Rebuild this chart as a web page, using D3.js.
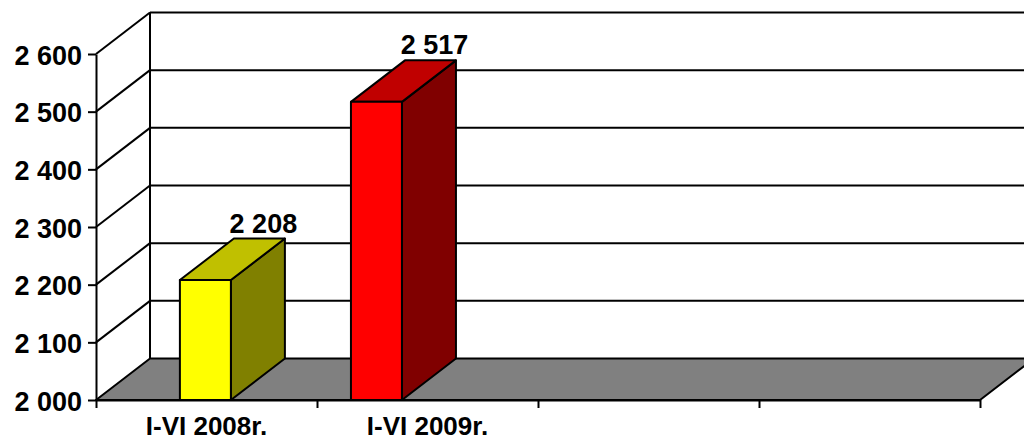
<!DOCTYPE html>
<html>
<head>
<meta charset="utf-8">
<script src="https://cdn.jsdelivr.net/npm/d3@7"></script>
<style>
  body { margin: 0; background: #fff; }
  svg { display: block; }
  text { font-family: "Liberation Sans", Arial, sans-serif; font-weight: bold; fill: #000; }
</style>
</head>
<body>
<div id="viz"></div>
<script>
const width = 1024,
    height = 441;

// data
const categories = ["I-VI 2008r.", "I-VI 2009r.", "", ""];
const barValues = [2208, 2517];
const barSlot = [0.495, 1.269];   // where each bar sits along the category axis
const barColors = [
    { front: "#ffff00", top: "#c0c000", side: "#808000" },
    { front: "#ff0000", top: "#c00000", side: "#800000" }
];
const yTicks = [2000, 2100, 2200, 2300, 2400, 2500, 2600];

const plotLeft = 96, plotRight = 980, plotBottom = 400, plotTop = 54,
    depthX = 54, depthY = -41.5,
    barWidth = 51;

const fmt = d3.formatLocale({ decimal: ",", thousands: " ", grouping: [3], currency: ["", ""] }).format(",d");

const y = d3.scaleLinear().domain([2000, 2600]).range([plotBottom, plotTop]);
const x = d3.scaleLinear().domain([0, categories.length]).range([plotLeft, plotRight]);

const svg = d3.select("#viz").append("svg")
    .attr("width", width)
    .attr("height", height);

// back wall gridlines
svg.append("g").selectAll("line")
    .data(yTicks.slice(1))
    .enter().append("line")
    .attr("x1", plotLeft + depthX)
    .attr("x2", plotRight + depthX)
    .attr("y1", d => y(d) + depthY)
    .attr("y2", d => y(d) + depthY)
    .attr("stroke", "#000")
    .attr("stroke-width", 2);

// back wall left edge
svg.append("line")
    .attr("x1", plotLeft + depthX).attr("x2", plotLeft + depthX)
    .attr("y1", y(2600) + depthY).attr("y2", y(2000) + depthY)
    .attr("stroke", "#000").attr("stroke-width", 2);

// left wall diagonals
svg.append("g").selectAll("line")
    .data(yTicks.slice(1))
    .enter().append("line")
    .attr("x1", plotLeft)
    .attr("x2", plotLeft + depthX)
    .attr("y1", d => y(d))
    .attr("y2", d => y(d) + depthY)
    .attr("stroke", "#000")
    .attr("stroke-width", 2);

// floor
const y0 = y(2000);
svg.append("polygon")
    .attr("points", [[plotLeft, y0], [plotRight, y0], [plotRight + depthX, y0 + depthY], [plotLeft + depthX, y0 + depthY]].join(" "))
    .attr("fill", "#808080")
    .attr("stroke", "#000")
    .attr("stroke-width", 2)
    .attr("stroke-linejoin", "round");

// bars
const bars = svg.append("g").selectAll("g")
    .data(barValues)
    .enter().append("g");

bars.each(function (d, i) {
    const g = d3.select(this),
        cx = x(barSlot[i]),
        x0 = cx - barWidth / 2,
        x1 = cx + barWidth / 2,
        yt = y(d),
        c = barColors[i];

    g.append("polygon")
        .attr("points", [[x1, yt], [x1 + depthX, yt + depthY], [x1 + depthX, y0 + depthY], [x1, y0]].join(" "))
        .attr("fill", c.side);
    g.append("polygon")
        .attr("points", [[x0, yt], [x1, yt], [x1 + depthX, yt + depthY], [x0 + depthX, yt + depthY]].join(" "))
        .attr("fill", c.top);
    g.append("rect")
        .attr("x", x0).attr("y", yt)
        .attr("width", barWidth).attr("height", y0 - yt)
        .attr("fill", c.front);
    g.selectAll("polygon, rect")
        .attr("stroke", "#000")
        .attr("stroke-width", 2)
        .attr("stroke-linejoin", "round");

    g.append("text")
        .attr("x", cx + depthX + 4)
        .attr("y", yt + depthY - 6)
        .attr("text-anchor", "middle")
        .style("font-size", "27px")
        .text(fmt(d));
});

// value axis
const yAxis = d3.axisLeft(y)
    .tickValues(yTicks)
    .tickFormat(fmt)
    .tickSize(8)
    .tickSizeOuter(0)
    .tickPadding(6);

svg.append("g")
    .attr("transform", "translate(" + plotLeft + ",0)")
    .call(yAxis)
    .call(g => g.selectAll("path, line").attr("stroke", "#000").attr("stroke-width", 2))
    .call(g => g.selectAll("text")
        .attr("font-family", null)
        .attr("font-size", null)
        .style("font-size", "27px")
        .attr("dy", "0.37em"));

// category axis
const xAxis = d3.axisBottom(x)
    .tickValues(d3.range(categories.length + 1))
    .tickFormat("")
    .tickSize(8)
    .tickSizeOuter(0);

svg.append("g")
    .attr("transform", "translate(0," + plotBottom + ")")
    .call(xAxis)
    .call(g => g.selectAll("path, line").attr("stroke", "#000").attr("stroke-width", 2));

svg.append("g").selectAll("text")
    .data(categories)
    .enter().append("text")
    .attr("x", (d, i) => x(i + 0.5))
    .attr("y", 435)
    .attr("text-anchor", "middle")
    .style("font-size", "26px")
    .text(d => d);
</script>
</body>
</html>
